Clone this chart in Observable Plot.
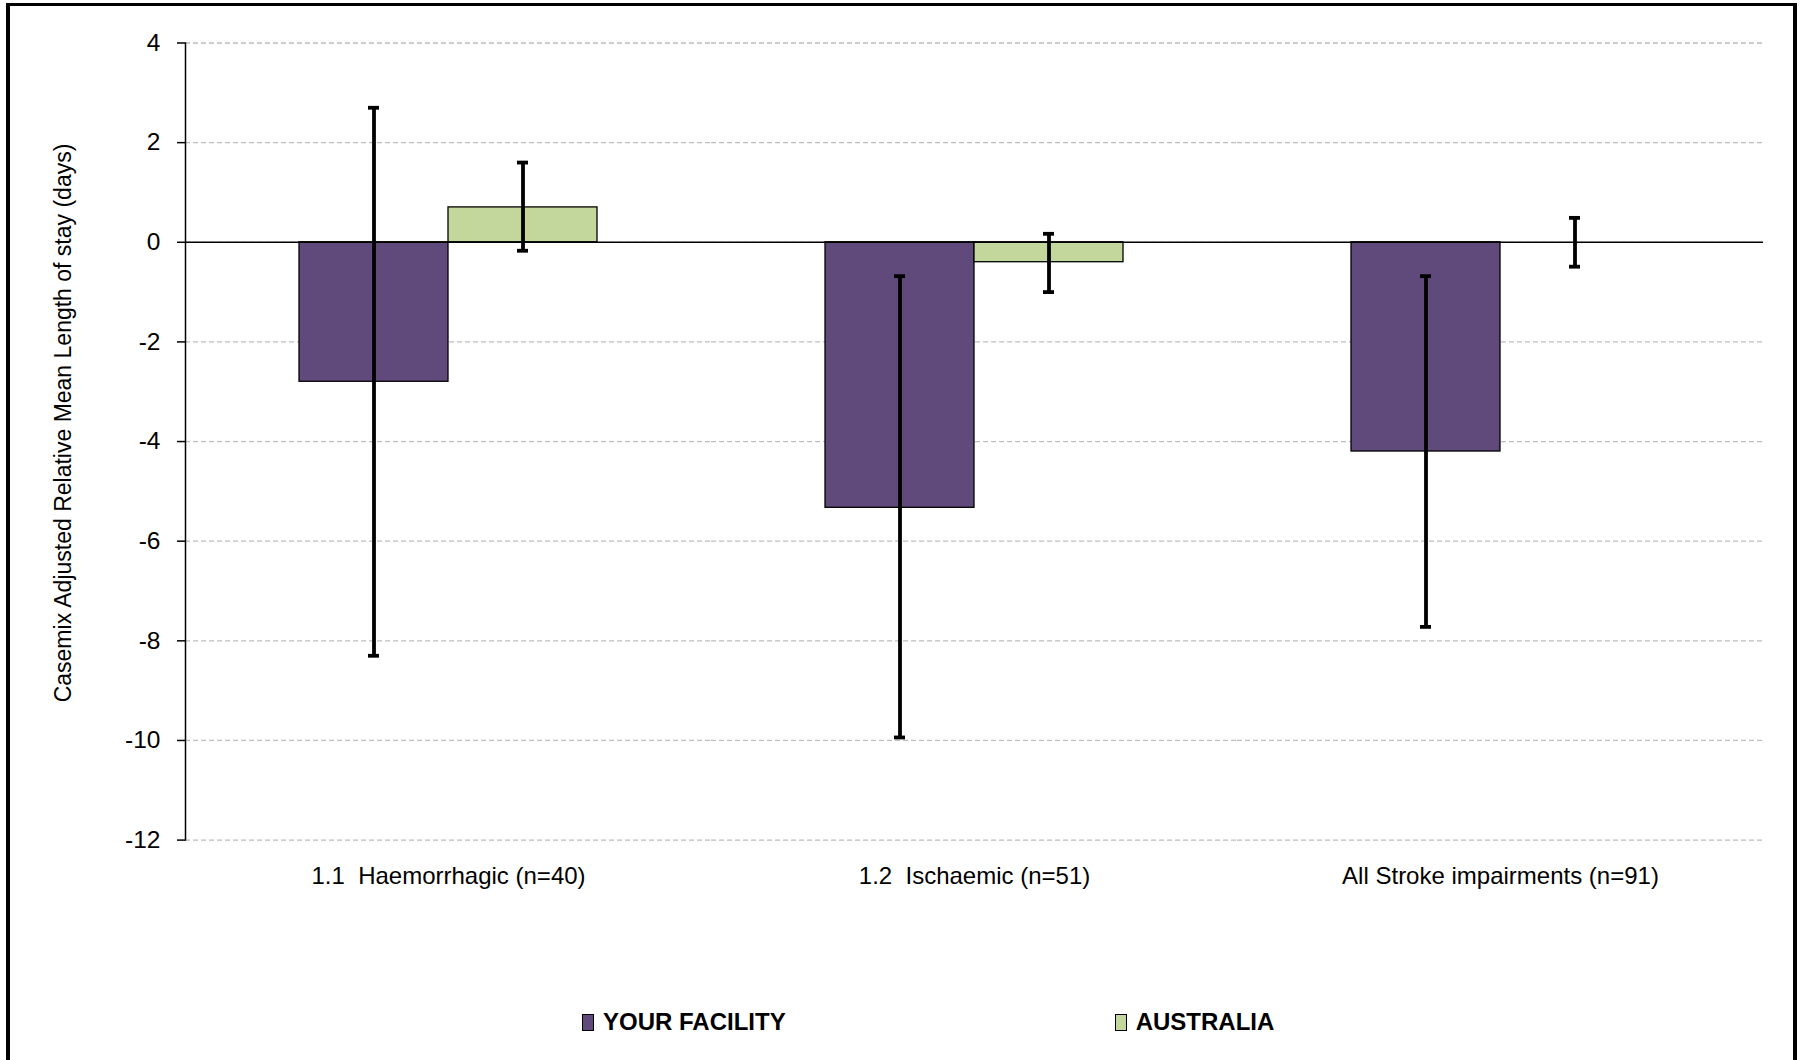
<!DOCTYPE html>
<html>
<head>
<meta charset="utf-8">
<script src="https://cdn.jsdelivr.net/npm/d3@7"></script>
<script src="https://cdn.jsdelivr.net/npm/@observablehq/plot@0.6"></script>
<style>
  html, body { margin: 0; padding: 0; background: #fff; }
  #wrap { position: relative; width: 1801px; height: 1060px; overflow: hidden;
          font-family: "Liberation Sans", Arial, sans-serif; }
  #frame { position: absolute; left: 6px; top: 3px; width: 1791px; height: 1090px; box-sizing: border-box;
           border-style: solid; border-color: #000; border-width: 3px 4px 4px 4px; }
  #chart { position: absolute; left: 0; top: 0; }
  #chart svg text { white-space: pre; }
  #ytitle { position: absolute; left: 63px; top: 423px; transform: translate(-50%, -50%) rotate(-90deg);
            white-space: nowrap; font-size: 23px; color: #000; }
  #legend { position: absolute; left: 582px; top: 1008px; display: flex; align-items: center; column-gap: 329px; }
  .item { display: flex; align-items: center; column-gap: 9px; font-weight: bold; font-size: 24px; color: #000; }
  .sw { width: 10px; height: 15px; border: 1.3px solid #000; }
</style>
</head>
<body>
<div id="wrap">
  <div id="frame"></div>
  <div id="chart"></div>
  <div id="ytitle"></div>
  <div id="legend"></div>
</div>
<script>
const categories = ["1.1  Haemorrhagic (n=40)", "1.2  Ischaemic (n=51)", "All Stroke impairments (n=91)"];
const series = ["YOUR FACILITY", "AUSTRALIA"];
const facilityValues = [-2.8, -5.33, -4.2];
const facilityLow = [-8.3, -9.94, -7.72];
const facilityHigh = [2.7, -0.68, -0.68];
const australiaValues = [0.7, -0.4, 0];
const australiaLow = [-0.17, -1.0, -0.49];
const australiaHigh = [1.6, 0.17, 0.49];
const yTicks = [4, 2, 0, -2, -4, -6, -8, -10, -12];
const colors = ["#604a7b", "#c3d69b"];
const yTitle = "Casemix Adjusted Relative Mean Length of stay (days)";

const data = [];
categories.forEach((c, i) => {
  data.push({category: c, series: series[0], value: facilityValues[i], lo: facilityLow[i], hi: facilityHigh[i]});
  data.push({category: c, series: series[1], value: australiaValues[i], lo: australiaLow[i], hi: australiaHigh[i]});
});

const font = '"Liberation Sans", Arial, sans-serif';

const chart = Plot.plot({
  width: 1801,
  height: 900,
  marginLeft: 184,
  marginRight: 38,
  marginTop: 42.5,
  marginBottom: 60.4,
  style: {fontFamily: font, fontSize: "24px", color: "#000", background: "transparent", overflow: "visible"},
  fx: {domain: categories, padding: 0, label: null},
  x: {domain: series, paddingInner: 0, paddingOuter: 0.755, axis: null},
  y: {domain: [-12, 4], label: null},
  color: {domain: series, range: colors},
  marks: [
    Plot.gridY(yTicks, {stroke: "#bdbdbd", strokeOpacity: 1, strokeWidth: 1.3, strokeDasharray: "5,3"}),
    Plot.barY(data, {fx: "category", x: "series", y: "value", fill: "series", stroke: "#000", strokeWidth: 1.3}),
    Plot.ruleY([0], {stroke: "#000", strokeWidth: 1.5}),
    Plot.ruleX(data, {fx: "category", x: "series", y1: "lo", y2: "hi", stroke: "#000", strokeWidth: 3.8}),
    Plot.tickY(data, {fx: "category", x: "series", y: "lo", stroke: "#000", strokeWidth: 3.8, inset: 69}),
    Plot.tickY(data, {fx: "category", x: "series", y: "hi", stroke: "#000", strokeWidth: 3.8, inset: 69}),
    Plot.frame({anchor: "left", facetAnchor: "left", stroke: "#000", strokeWidth: 1.5}),
    Plot.axisY(yTicks, {tickSize: 8, tickPadding: 17, tickFormat: d => String(d), fontSize: 24.5, label: null, strokeWidth: 1.5}),
    Plot.axisFx({anchor: "bottom", tickSize: 0, tickPadding: 27, label: null, fontSize: 24})
  ]
});
document.getElementById("chart").appendChild(chart);
document.getElementById("ytitle").textContent = yTitle;

const legend = document.getElementById("legend");
series.forEach((s, i) => {
  const item = document.createElement("div");
  item.className = "item";
  const sw = document.createElement("div");
  sw.className = "sw";
  sw.style.background = colors[i];
  const t = document.createElement("span");
  t.textContent = s;
  item.appendChild(sw);
  item.appendChild(t);
  legend.appendChild(item);
});
</script>
</body>
</html>
